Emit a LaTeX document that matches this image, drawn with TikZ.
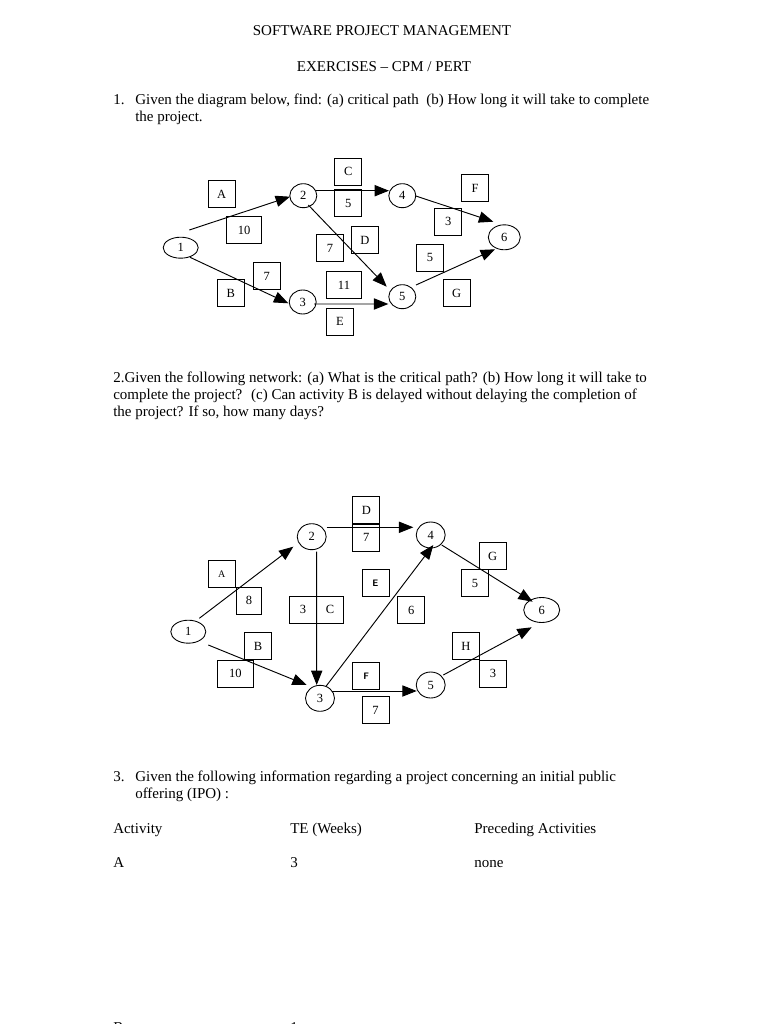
\documentclass[tikz,border=0pt]{standalone}
\usepackage{fontspec}
\setmainfont{Liberation Serif}
\usetikzlibrary{shapes.geometric,arrows.meta}
\begin{document}
\begin{tikzpicture}[x=0.8pt,y=-0.8pt,
  txt/.style={anchor=base west,inner sep=0pt,font=\fontsize{12}{14}\selectfont},
  ctxt/.style={txt,anchor=base},
  ev/.style={draw,ellipse,inner sep=0pt,line width=0.7pt,font=\fontsize{10}{12}\selectfont},
  sq/.style={draw,rectangle,inner sep=0pt,minimum width=21.6pt,minimum height=21.6pt,line width=0.7pt,font=\fontsize{10}{12}\selectfont},
  wsq/.style={sq,minimum width=28pt},
  ssq/.style={sq,font=\fontsize{7.5}{9}\selectfont\sffamily\bfseries},
  arr/.style={line width=0.75pt,-{Triangle[length=11.5pt,width=9pt]}}]
\useasboundingbox (0,0) rectangle (768,1024);
\clip (0,0) rectangle (768,1024);
\fill[white] (0,0) rectangle (768,1024);

% ---------- texts ----------
\node[ctxt] (title1) at (382,36) {SOFTWARE PROJECT MANAGEMENT};
\node[ctxt] (title2) at (384,72) {EXERCISES -- CPM / PERT};
\node[txt] (q1n) at (113,105) {1.};
\node[txt] (q1a) at (135,105) {Given the diagram below, find: (a) critical path \ (b) How long it will take to complete};
\node[txt] (q1b) at (135,122) {the project.};
\node[txt] (q2a) at (113,382) {2.Given the following network: (a) What is the critical path? (b) How long it will take to};
\node[txt] (q2b) at (113,399) {complete the project? \ (c) Can activity B is delayed without delaying the completion of};
\node[txt] (q2c) at (113,416) {the project? If so, how many days?};
\node[txt] (q3n) at (113,781) {3.};
\node[txt] (q3a) at (135,781) {Given the following information regarding a project concerning an initial public};
\node[txt] (q3b) at (135,798) {offering (IPO) :};
\node[txt] (h1) at (113,833) {Activity};
\node[txt] (h2) at (290,833) {TE (Weeks)};
\node[txt] (h3) at (474,833) {Preceding Activities};
\node[txt] (r1a) at (113,867) {A};
\node[txt] (r1b) at (290,867) {3};
\node[txt] (r1c) at (474,867) {none};
\node[txt] (r2a) at (113,1032) {B};
\node[txt] (r2b) at (290,1032) {1};
\node[txt] (r2c) at (474,1032) {none};

% ---------- diagram 1 ----------
\node[ev,minimum width=28pt,minimum height=16.8pt] (n1) at (180.7,247.7) {1};
\node[ev,minimum width=21.6pt,minimum height=19.2pt] (n2) at (303.3,195.7) {2};
\node[ev,minimum width=21.6pt,minimum height=19.2pt] (n3) at (302.7,302) {3};
\node[ev,minimum width=21.6pt,minimum height=19.2pt] (n4) at (402.3,195.7) {4};
\node[ev,minimum width=21.6pt,minimum height=19.2pt] (n5) at (402.3,296.7) {5};
\node[ev,minimum width=25.6pt,minimum height=20pt] (n6) at (504.3,237.3) {6};

\node[sq] (bA) at (221.7,194) {A};
\node[wsq] (b10) at (244,230) {10};
\node[sq] (bC) at (348.3,171.7) {C};
\node[sq] (bC5) at (348.3,203.3) {5};
\node[sq] (bF) at (475,188.3) {F};
\node[sq] (bF3) at (448.3,221.7) {3};
\node[sq] (bD7) at (330,248.3) {7};
\node[sq] (bD) at (365,240.3) {D};
\node[sq] (bG5) at (430,257.8) {5};
\node[sq] (bG) at (456.7,293.3) {G};
\node[sq] (bB7) at (266.7,276) {7};
\node[sq] (bB) at (230.7,293.3) {B};
\node[wsq] (b11) at (344,285) {11};
\node[sq] (bE) at (340,321.7) {E};

\draw[arr] ([shift={(8.6,-17.7)}]n1.center) -- ([shift={(-13.3,1)}]n2.center);
\draw[arr] ([shift={(9.3,9.6)}]n1.center) -- ([shift={(-14.4,1.3)}]n3.center);
\draw[arr] ([shift={(12.4,-5)}]n2.center) -- ([shift={(-13.3,-5)}]n4.center);
\draw[arr] ([shift={(5,9.3)}]n2.center) -- ([shift={(-15.6,-10)}]n5.center);
\draw[arr] ([shift={(11.3,2)}]n3.center) -- ([shift={(-14,7.3)}]n5.center);
\draw[arr] ([shift={(12.7,0)}]n4.center) -- ([shift={(-11,-15.6)}]n6.center);
\draw[arr] ([shift={(13.7,-11.7)}]n5.center) -- ([shift={(-9.3,12)}]n6.center);

% ---------- diagram 2 ----------
\node[ev,minimum width=28pt,minimum height=18.4pt] (m1) at (188.3,631.7) {1};
\node[ev,minimum width=23.2pt,minimum height=20.8pt] (m2) at (311.7,536.7) {2};
\node[ev,minimum width=23.2pt,minimum height=20.8pt] (m3) at (320,698.3) {3};
\node[ev,minimum width=23.2pt,minimum height=20.8pt] (m4) at (430.7,535) {4};
\node[ev,minimum width=23.2pt,minimum height=20.8pt] (m5) at (430.7,685) {5};
\node[ev,minimum width=28.8pt,minimum height=20pt] (m6) at (541.7,610) {6};

\node[sq] (cD) at (366.3,510.3) {D};
\node[sq] (cD7) at (366.3,537.5) {7};
\node[sq,font=\fontsize{8}{9}\selectfont] (cA) at (221.7,573.7) {A};
\node[sq,minimum width=20pt] (cA8) at (249,600.7) {8};
\node[sq] (cC3) at (303,609.7) {3};
\node[sq] (cC) at (330,609.7) {C};
\node[ssq] (cE) at (375.5,583) {E};
\node[sq] (cE6) at (411.3,610) {6};
\node[sq] (cG) at (492.7,556.2) {G};
\node[sq] (cG5) at (475,583.3) {5};
\node[sq] (cB) at (258,646.3) {B};
\node[sq,minimum width=28.8pt] (cB10) at (235.3,673.7) {10};
\node[ssq] (cF) at (366.3,676.3) {F};
\node[sq] (cF7) at (375.5,710) {7};
\node[sq] (cH) at (466,646.3) {H};
\node[sq] (cH3) at (493,673.7) {3};

\draw[arr] ([shift={(11,-13.4)}]m1.center) -- ([shift={(-18.4,10)}]m2.center);
\draw[arr] ([shift={(20,13.3)}]m1.center) -- ([shift={(-13.3,-13.3)}]m3.center);
\draw[arr] ([shift={(5,15)}]m2.center) -- ([shift={(-3.3,-13.3)}]m3.center);
\draw[arr] ([shift={(15,-9.4)}]m2.center) -- ([shift={(-17.4,-7.7)}]m4.center);
\draw[arr] ([shift={(5.7,-11.6)}]m3.center) -- ([shift={(2.6,10)}]m4.center);
\draw[arr] ([shift={(11.7,-7.3)}]m3.center) -- ([shift={(-14,6)}]m5.center);
\draw[arr] ([shift={(11,10)}]m4.center) -- ([shift={(-9,-8.3)}]m6.center);
\draw[arr] ([shift={(12.6,-10)}]m5.center) -- ([shift={(-10,17.3)}]m6.center);
\end{tikzpicture}
\end{document}
